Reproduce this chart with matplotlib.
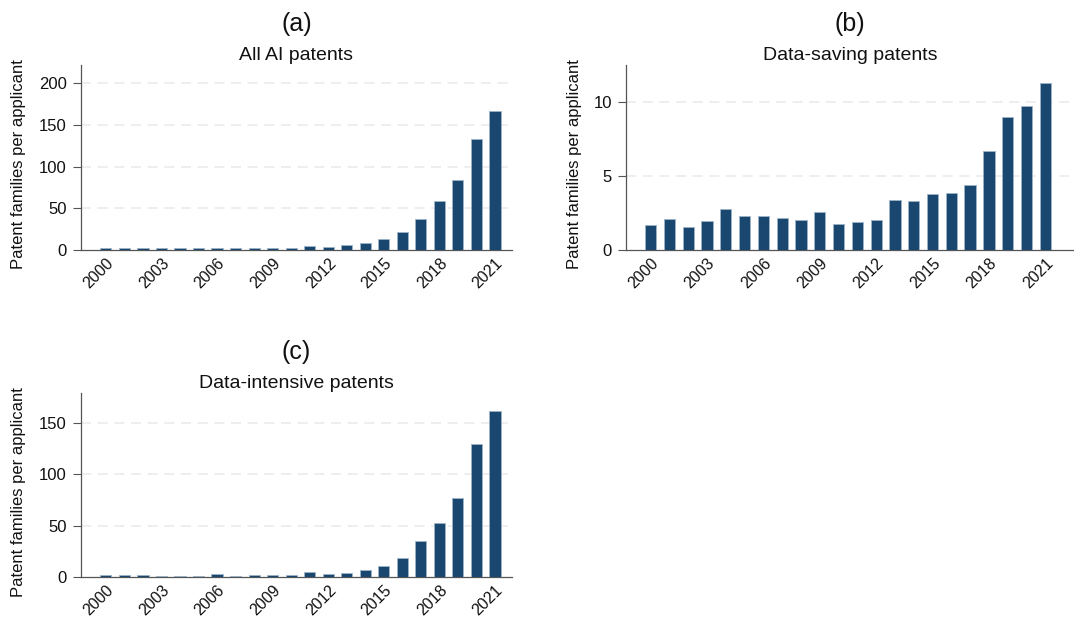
import matplotlib.pyplot as plt
from matplotlib.transforms import ScaledTranslation

plt.rcParams["font.family"] = ["Liberation Sans", "DejaVu Sans"]

YEARS = list(range(2000, 2022))
TICK_YEARS = [2000, 2003, 2006, 2009, 2012, 2015, 2018, 2021]

ALL_AI = [2.8, 2.6, 2.4, 2.3, 2.6, 2.5, 2.8, 2.4, 2.5, 2.6, 2.4, 4.8,
          4.0, 6.0, 8.8, 12.8, 21.6, 37.6, 58.4, 84.0, 133.6, 166.4]
DATA_SAVING = [1.72, 2.12, 1.58, 1.94, 2.78, 2.28, 2.28, 2.17, 2.05, 2.55, 1.78,
               1.90, 2.05, 3.36, 3.30, 3.81, 3.88, 4.38, 6.70, 8.96, 9.71, 11.26]
DATA_INTENSIVE = [2.6, 2.6, 2.0, 1.6, 1.6, 1.6, 2.9, 1.6, 2.3, 2.3, 2.0, 4.9,
                  2.9, 4.5, 7.5, 11.0, 19.2, 35.4, 52.9, 77.0, 129.0, 162.0]

BAR = "#1a476f"
EDGE = "#9db3c8"
GRID = "#ebebeb"
AXIS = "#555555"
TEXT = "#111111"

W, H = 1074, 620


def px_axes(fig, box):
    left, top, right, bottom = box
    return fig.add_axes([left / W, 1 - bottom / H, (right - left) / W, (bottom - top) / H])


def draw_panel(fig, box, values, yticks, ytop, xlim, letter, title, ylab_x):
    ax = px_axes(fig, box)
    left, top, right, bottom = box
    ax.bar(YEARS, values, width=0.6, color=BAR, edgecolor=EDGE, linewidth=0.6, zorder=3)
    ax.set_xlim(*xlim)
    ax.set_ylim(0, ytop)
    ax.set_yticks(yticks)
    ax.set_xticks(TICK_YEARS)
    ax.set_xticklabels([str(y) for y in TICK_YEARS], rotation=45, ha="right",
                       rotation_mode="anchor", fontsize=11.5)
    ax.tick_params(axis="x", length=0, pad=4, labelcolor=TEXT)
    ax.tick_params(axis="y", length=6, width=0.8, color=AXIS, labelsize=12,
                   labelcolor=TEXT, pad=4)
    for t in yticks:
        if t != 0:
            ax.axhline(t, color=GRID, linewidth=1.2, linestyle=(0, (6, 4)), zorder=1)
    for side in ("top", "right"):
        ax.spines[side].set_visible(False)
    for side in ("left", "bottom"):
        ax.spines[side].set_color(AXIS)
        ax.spines[side].set_linewidth(0.9)

    # y label placed a little below the axes centre, at a fixed pixel column
    ax.set_ylabel("Patent families per applicant", fontsize=12, color=TEXT,
                  ha="center", va="center")
    ax.yaxis.set_label_coords((ylab_x - left) / (right - left), 0.465)

    sub_off = ax.transAxes + ScaledTranslation(0, 0.01, fig.dpi_scale_trans)
    let_off = ax.transAxes + ScaledTranslation(0, 0.29, fig.dpi_scale_trans)
    ax.text(0.5, 1.0, title, transform=sub_off, ha="center", va="bottom",
            fontsize=14, color=TEXT)
    ax.text(0.5, 1.0, letter, transform=let_off, ha="center", va="bottom",
            fontsize=18, color=TEXT)
    return ax


fig = plt.figure(figsize=(W / 100, H / 100), dpi=100)

draw_panel(fig, (80.7, 65, 512, 250), ALL_AI, [0, 50, 100, 150, 200], 222,
           (1998.64, 2021.92), "(a)", "All AI patents", 18)
draw_panel(fig, (625.7, 65, 1074, 250), DATA_SAVING, [0, 5, 10], 12.5,
           (1998.67, 2022.53), "(b)", "Data-saving patents", 575)
draw_panel(fig, (80.7, 393, 512, 577.3), DATA_INTENSIVE, [0, 50, 100, 150], 179,
           (1998.64, 2021.92), "(c)", "Data-intensive patents", 18)

fig.savefig("out.png", dpi=100, facecolor="white")
